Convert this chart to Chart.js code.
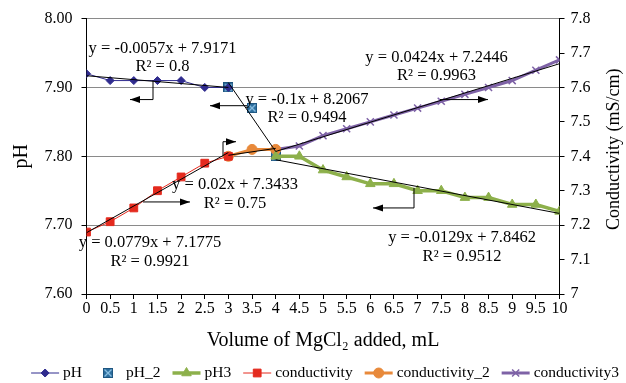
<!DOCTYPE html>
<html lang="en">
<head>
<meta charset="UTF-8">
<title>pH and conductivity vs MgCl2 added</title>
<script src="https://cdn.jsdelivr.net/npm/chart.js"></script>
<style>
  html, body { margin: 0; padding: 0; background: #fff; }
  #wrap { width: 626px; height: 383px; }
</style>
</head>
<body>
<div id="wrap"><canvas id="chart" width="626" height="383"></canvas></div>
<script>
// volume of MgCl2 added (mL) and readings, split in the three stages
const volPH = [0, 0.5, 1, 1.5, 2, 2.5, 3];
const valPH = [7.92, 7.91, 7.91, 7.91, 7.91, 7.90, 7.90];
const volPH2 = [3, 3.5, 4];
const valPH2 = [7.90, 7.87, 7.80];
const volPH3 = [4, 4.5, 5, 5.5, 6, 6.5, 7, 7.5, 8, 8.5, 9, 9.5, 10];
const valPH3 = [7.80, 7.80, 7.78, 7.77, 7.76, 7.76, 7.75, 7.75, 7.74, 7.74, 7.73, 7.73, 7.72];

const volCond = [0, 0.5, 1, 1.5, 2, 2.5, 3];
const valCond = [7.18, 7.21, 7.25, 7.30, 7.34, 7.38, 7.40];
const volCond2 = [3, 3.5, 4];
const valCond2 = [7.40, 7.42, 7.42];
const volCond3 = [4, 4.5, 5, 5.5, 6, 6.5, 7, 7.5, 8, 8.5, 9, 9.5, 10];
const valCond3 = [7.42, 7.43, 7.46, 7.48, 7.50, 7.52, 7.54, 7.56, 7.58, 7.60, 7.62, 7.65, 7.68];

// linear trendlines, start and end
const trendX = [[0, 3], [3, 4], [4, 10], [0, 3], [3, 4], [4, 10]];
const trendY = [[7.917, 7.900], [7.907, 7.807], [7.795, 7.717], [7.178, 7.411], [7.403, 7.423], [7.414, 7.669]];
const trendAxis = ['y', 'y', 'y', 'y2', 'y2', 'y2'];
const trendEq = ['y = -0.0057x + 7.9171', 'y = -0.1x + 8.2067', 'y = -0.0129x + 7.8462',
                 'y = 0.0779x + 7.1775', 'y = 0.02x + 7.3433', 'y = 0.0424x + 7.2446'];
const trendR2 = ['R² = 0.8', 'R² = 0.9494', 'R² = 0.9512', 'R² = 0.9921', 'R² = 0.75', 'R² = 0.9963'];

const FONT = '"Liberation Serif", "Times New Roman", serif';

// where each equation sits and the arrow pointing to its line (x in mL, y on the pH axis)
const notePos = [
  {x: 1.607, y: 7.9567, arrow: [[1.406, 7.9101], [1.406, 7.8824], [0.92, 7.8824]]},
  {x: 4.662, y: 7.8824, arrow: [[3.393, 7.8735], [2.611, 7.8735]]},
  {x: 7.94,  y: 7.6812, arrow: [[6.924, 7.7541], [6.924, 7.7250], [6.057, 7.7250]]},
  {x: 1.342, y: 7.6743, arrow: [[1.195, 7.7337], [2.188, 7.7337]]},
  {x: 3.14,  y: 7.7585, arrow: [[2.886, 7.8007], [2.886, 7.8212], [3.161, 7.8212]]},
  {x: 7.40,  y: 7.9436, arrow: [[7.474, 7.8824], [8.488, 7.8824]]}
];

// square marker with a light X inside, like the pH_2 marker
function squareX(size) {
  const c = document.createElement('canvas');
  c.width = c.height = size;
  const g = c.getContext('2d');
  g.fillStyle = '#2C6E9E';
  g.fillRect(0, 0, size, size);
  g.strokeStyle = '#8CC0E2';
  g.lineWidth = 1.3;
  g.beginPath();
  g.moveTo(1.5, 1.5); g.lineTo(size - 1.5, size - 1.5);
  g.moveTo(size - 1.5, 1.5); g.lineTo(1.5, size - 1.5);
  g.stroke();
  g.strokeStyle = '#1E5580';
  g.lineWidth = 1;
  g.strokeRect(0.5, 0.5, size - 1, size - 1);
  return c;
}

function series(label, xs, ys, axis, style) {
  return Object.assign({
    label: label,
    data: xs.map((x, i) => ({x: x, y: ys[i]})),
    yAxisID: axis,
    showLine: true,
    pointBorderWidth: 1
  }, style);
}

const datasets = [
  series('pH', volPH, valPH, 'y', {borderColor: '#2F2B8E', borderWidth: 1, pointStyle: 'rectRot', pointRadius: 4,
    pointBackgroundColor: '#2F2B8E', pointBorderColor: '#2F2B8E', order: 2}),
  series('pH_2', volPH2, valPH2, 'y', {showLine: false, pointStyle: squareX(10), pointRadius: 5,
    borderColor: '#2C6E9E', pointBackgroundColor: '#2C6E9E', pointBorderColor: '#2C6E9E', order: 9}),
  series('pH3', volPH3, valPH3, 'y', {borderColor: '#8DB04B', borderWidth: 3.5, pointStyle: 'triangle', pointRadius: 5.5,
    pointBackgroundColor: '#8DB04B', pointBorderColor: '#8DB04B', order: 3}),
  series('conductivity', volCond, valCond, 'y2', {borderColor: '#E42A1E', borderWidth: 1, pointStyle: 'rect', pointRadius: 5.5,
    pointBackgroundColor: '#E42A1E', pointBorderColor: '#E42A1E', order: 4}),
  series('conductivity_2', volCond2, valCond2, 'y2', {borderColor: '#E8893A', borderWidth: 3, pointStyle: 'circle', pointRadius: 5,
    pointBackgroundColor: '#E8893A', pointBorderColor: '#E8893A', order: 5}),
  series('conductivity3', volCond3, valCond3, 'y2', {borderColor: '#7E62A6', borderWidth: 3, pointStyle: 'crossRot', pointRadius: 5,
    pointBackgroundColor: '#7E62A6', pointBorderColor: '#7E62A6', pointBorderWidth: 1.5, order: 6})
];

trendX.forEach((xs, i) => {
  datasets.push({
    label: 'trend' + i,
    trend: true,
    data: xs.map((x, j) => ({x: x, y: trendY[i][j]})),
    yAxisID: trendAxis[i],
    showLine: true,
    borderColor: '#000',
    borderWidth: 1,
    pointRadius: 0,
    order: 0
  });
});

const notesPlugin = {
  id: 'notes',
  afterDatasetsDraw(chart) {
    const ctx = chart.ctx;
    const sx = chart.scales.x, sy = chart.scales.y;
    ctx.save();
    ctx.strokeStyle = '#000';
    ctx.fillStyle = '#000';
    ctx.lineWidth = 1;
    notePos.forEach((n, i) => {
      const pts = n.arrow.map(p => [sx.getPixelForValue(p[0]), sy.getPixelForValue(p[1])]);
      ctx.beginPath();
      pts.forEach((p, j) => j ? ctx.lineTo(p[0], p[1]) : ctx.moveTo(p[0], p[1]));
      ctx.stroke();
      const a = pts[pts.length - 2], b = pts[pts.length - 1];
      const ang = Math.atan2(b[1] - a[1], b[0] - a[0]);
      ctx.beginPath();
      ctx.moveTo(b[0], b[1]);
      ctx.lineTo(b[0] - 10 * Math.cos(ang) + 3.5 * Math.sin(ang), b[1] - 10 * Math.sin(ang) - 3.5 * Math.cos(ang));
      ctx.lineTo(b[0] - 10 * Math.cos(ang) - 3.5 * Math.sin(ang), b[1] - 10 * Math.sin(ang) + 3.5 * Math.cos(ang));
      ctx.closePath();
      ctx.fill();

      const tx = sx.getPixelForValue(n.x), ty = sy.getPixelForValue(n.y);
      ctx.font = '16.5px ' + FONT;
      ctx.textAlign = 'center';
      ctx.textBaseline = 'middle';
      ctx.fillText(trendEq[i], tx, ty);
      ctx.fillText(trendR2[i], tx, ty + 18.5);
    });
    ctx.restore();
  },
  afterDraw(chart) {
    const ctx = chart.ctx;
    const r = chart.scales.y2;
    const area = chart.chartArea;
    ctx.save();
    // right axis title reads bottom to top
    ctx.translate(r.right - 12, (area.top + area.bottom) / 2 - 7);
    ctx.rotate(-Math.PI / 2);
    ctx.font = '18px ' + FONT;
    ctx.fillStyle = '#000';
    ctx.textAlign = 'center';
    ctx.textBaseline = 'middle';
    ctx.fillText('Conductivity (mS/cm)', 0, 0);
    ctx.restore();

    // legend: line with marker, then name
    const items = chart.data.datasets.filter(d => !d.trend);
    const box = 28, gapText = 4, gapItem = 12, y = 373;
    ctx.save();
    ctx.font = '15.5px ' + FONT;
    const widths = items.map(d => ctx.measureText(d.label).width);
    let total = widths.reduce((s, w) => s + box + gapText + w, 0) + gapItem * (items.length - 1);
    let x = (chart.width - total) / 2 + 12;
    items.forEach((d, i) => {
      if (d.showLine !== false) {
        ctx.strokeStyle = d.borderColor;
        ctx.lineWidth = d.borderWidth;
        ctx.beginPath();
        ctx.moveTo(x, y);
        ctx.lineTo(x + box, y);
        ctx.stroke();
      }
      ctx.fillStyle = d.pointBackgroundColor;
      ctx.strokeStyle = d.pointBorderColor;
      ctx.lineWidth = d.pointBorderWidth;
      Chart.helpers.drawPoint(ctx, {pointStyle: d.pointStyle, radius: d.pointRadius, borderWidth: d.pointBorderWidth, rotation: 0}, x + box / 2, y);
      ctx.fillStyle = '#000';
      ctx.textAlign = 'left';
      ctx.textBaseline = 'middle';
      ctx.fillText(d.label, x + box + gapText, y);
      x += box + gapText + widths[i] + gapItem;
    });
    ctx.restore();
  }
};

new Chart(document.getElementById('chart'), {
  type: 'scatter',
  data: {datasets: datasets},
  options: {
    responsive: false,
    animation: false,
    layout: {padding: {top: 18, left: 0, right: 0, bottom: 30}},
    plugins: {legend: {display: false}, tooltip: {enabled: false}},
    scales: {
      x: {
        type: 'linear', min: 0, max: 10,
        ticks: {stepSize: 0.5, autoSkip: false, maxRotation: 0, padding: 0, color: '#000',
          font: {family: FONT, size: 16}, callback: v => String(v)},
        grid: {drawOnChartArea: false, tickLength: 5, tickColor: '#000'},
        border: {color: '#000'},
        title: {display: true, text: 'Volume of MgCl₂ added, mL', color: '#000',
          font: {family: FONT, size: 20}, padding: 0},
        afterFit: s => { s.height = 59; }
      },
      y: {
        position: 'left', min: 7.6, max: 8.0,
        ticks: {stepSize: 0.1, padding: 9, color: '#000', font: {family: FONT, size: 16},
          callback: v => v.toFixed(2)},
        grid: {color: '#8a8a8a', tickColor: '#000', tickLength: 5},
        border: {color: '#000'},
        title: {display: true, text: 'pH', color: '#000', font: {family: FONT, size: 20}, padding: {top: 10}},
        afterFit: s => { s.width = 86.5; }
      },
      y2: {
        position: 'right', min: 7.0, max: 7.8,
        ticks: {stepSize: 0.1, padding: 6, color: '#000', font: {family: FONT, size: 16},
          callback: v => String(+v.toFixed(1))},
        grid: {drawOnChartArea: false, tickColor: '#000', tickLength: 5},
        border: {color: '#000'},
        afterFit: s => { s.width = 66.5; }
      }
    }
  },
  plugins: [notesPlugin]
});
</script>
</body>
</html>
